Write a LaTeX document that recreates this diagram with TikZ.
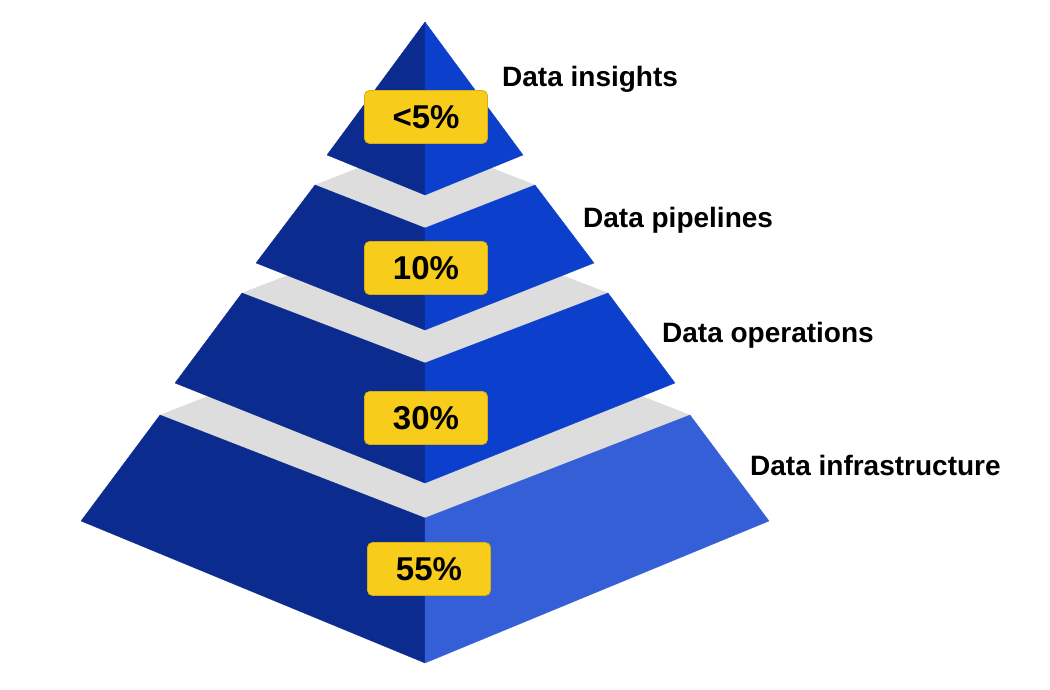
\documentclass[tikz,border=0pt]{standalone}
\usepackage{fontspec}
\setmainfont{Liberation Sans}
\usepackage{tikz}

\definecolor{leftblue}{HTML}{0B2C8E}
\definecolor{rightblue}{HTML}{0C3FCC}
\definecolor{baseblue}{HTML}{345FD6}
\definecolor{stepgray}{HTML}{DDDDDD}
\definecolor{pctyellow}{HTML}{F8CC1B}
\definecolor{pctedge}{HTML}{D8AE10}

\begin{document}
\begin{tikzpicture}[x=1pt,y=-1pt,
    leftface/.style={fill=leftblue, draw=leftblue, line width=0.3pt, line join=round},
    rightface/.style={fill=#1, draw=#1, line width=0.3pt, line join=round},
    topface/.style={fill=stepgray, draw=stepgray, line width=0.3pt},
    pct/.style={fill=pctyellow, draw=pctedge, line width=0.8pt, rounded corners=5pt,
        minimum width=123pt, minimum height=53pt, inner sep=0pt,
        font=\fontsize{33}{36}\selectfont\bfseries},
    tierlabel/.style={anchor=base west, inner sep=0pt,
        font=\fontsize{28}{32}\selectfont\bfseries}]

    \useasboundingbox (0,0) rectangle (1050,690);

    % bottom tier
    \fill[topface] (160,415) -- (425,518) -- (690,415) -- (425,312) -- cycle;
    \filldraw[leftface] (160,415) -- (425,518) -- (425,663) -- (81,521) -- cycle;
    \filldraw[rightface=baseblue] (425,518) -- (690,415) -- (769,521) -- (425,663) -- cycle;

    % third tier
    \fill[topface] (242,293) -- (425,363) -- (608,293) -- (425,223) -- cycle;
    \filldraw[leftface] (242,293) -- (425,363) -- (425,483) -- (175,383) -- cycle;
    \filldraw[rightface=rightblue] (425,363) -- (608,293) -- (675,383) -- (425,483) -- cycle;

    % second tier
    \fill[topface] (315,185) -- (425,228) -- (535,185) -- (425,142) -- cycle;
    \filldraw[leftface] (315,185) -- (425,228) -- (425,330) -- (256,263) -- cycle;
    \filldraw[rightface=rightblue] (425,228) -- (535,185) -- (594,263) -- (425,330) -- cycle;

    % top
    \filldraw[leftface] (425,22) -- (425,195) -- (327,155) -- cycle;
    \filldraw[rightface=rightblue] (425,22) -- (523,155) -- (425,195) -- cycle;

    % shares
    \node[pct] (P1) at (426,117) {<5\%};
    \node[pct] (P2) at (426,268) {10\%};
    \node[pct] (P3) at (426,418) {30\%};
    \node[pct] (P4) at (429,569) {55\%};

    % tier names
    \node[tierlabel] (L1) at (502,87) {Data insights};
    \node[tierlabel] (L2) at (583,227) {Data pipelines};
    \node[tierlabel] (L3) at (662,342) {Data operations};
    \node[tierlabel] (L4) at (750,475) {Data infrastructure};

\end{tikzpicture}
\end{document}
